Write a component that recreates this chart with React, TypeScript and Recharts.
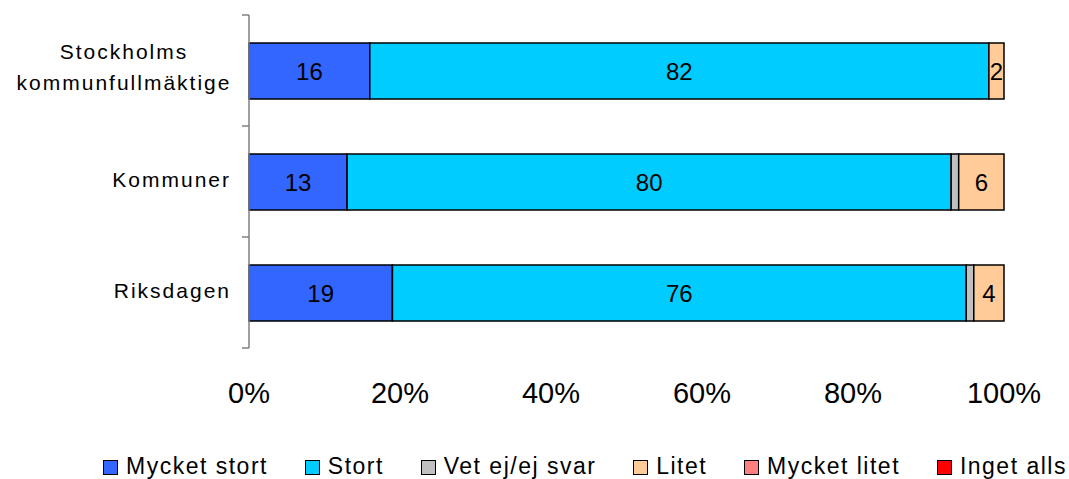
import React from 'react';
import { BarChart, Bar, XAxis, YAxis, LabelList } from 'recharts';

const categories = ['Stockholms kommunfullmäktige', 'Kommuner', 'Riksdagen'];
const mycketStort = [16, 13, 19];
const stort = [82, 80, 76];
const vetEj = [0, 1, 1];
const litet = [2, 6, 4];
const mycketLitet = [0, 0, 0];
const ingetAlls = [0, 0, 0];
const xTicks = [0, 20, 40, 60, 80, 100];

const series = [
  { key: 'mycketStort', name: 'Mycket stort', color: '#3366FF', values: mycketStort, label: true },
  { key: 'stort', name: 'Stort', color: '#00CCFF', values: stort, label: true },
  { key: 'vetEj', name: 'Vet ej/ej svar', color: '#C0C0C0', values: vetEj, label: false },
  { key: 'litet', name: 'Litet', color: '#FFCC99', values: litet, label: true },
  { key: 'mycketLitet', name: 'Mycket litet', color: '#FF8080', values: mycketLitet, label: true },
  { key: 'ingetAlls', name: 'Inget alls', color: '#FF0000', values: ingetAlls, label: true },
];

const data = categories.map((name, i) => {
  const row: any = { name };
  series.forEach((s) => { row[s.key] = s.values[i]; });
  return row;
});

const FONT = '"Liberation Sans", Arial, sans-serif';

const CategoryTick = (props: any) => {
  const { x, y, payload, index } = props;
  const half = payload?.offset ?? 0;
  const words = String(payload.value).split(' ');
  const multi = words.length > 1;
  const lines = multi ? words : [payload.value];
  const last = index === categories.length - 1;
  return (
    <g>
      <line x1={x - 7} x2={x} y1={y - half} y2={y - half} stroke="#808080" strokeWidth={1.5} />
      {last && <line x1={x - 7} x2={x} y1={y + half} y2={y + half} stroke="#808080" strokeWidth={1.5} />}
      {lines.map((l: string, i: number) => (
        <text
          key={i}
          // two-line label is centred block, single line right-aligned
          x={multi ? x - 125 : x - 18}
          y={y - 2 + (multi ? (i === 0 ? -17 : 14) : 0)}
          textAnchor={multi ? 'middle' : 'end'}
          dominantBaseline="central"
          fontSize={21}
          letterSpacing={2}
          fontFamily={FONT}
          fill="#000"
        >
          {l}
        </text>
      ))}
    </g>
  );
};

const PercentTick = (props: any) => {
  const { x, y, payload } = props;
  return (
    <text x={x} y={y + 45} textAnchor="middle" dominantBaseline="central" fontSize={29} fontFamily={FONT} fill="#000">
      {`${payload.value}%`}
    </text>
  );
};

export default function App() {
  return (
    <div style={{ position: 'absolute', left: 0, top: 0, width: 1069, height: 479, background: '#fff', fontFamily: FONT }}>
      <BarChart
        width={1069}
        height={479}
        data={data}
        layout="vertical"
        margin={{ top: 15, right: 65, left: 0, bottom: 0 }}
        barCategoryGap={0}
      >
        <XAxis
          type="number"
          domain={[0, 100]}
          ticks={xTicks}
          axisLine={false}
          tickLine={false}
          tickSize={0}
          tickMargin={0}
          height={131}
          tick={<PercentTick />}
          interval={0}
        />
        <YAxis
          type="category"
          dataKey="name"
          width={249}
          axisLine={{ stroke: '#808080', strokeWidth: 1.5 }}
          tickLine={false}
          tickSize={0}
          tickMargin={0}
          tick={<CategoryTick />}
          interval={0}
        />
        {series.map((s) => (
          <Bar
            key={s.key}
            dataKey={s.key}
            name={s.name}
            stackId="a"
            fill={s.color}
            stroke="#000"
            strokeWidth={1.5}
            barSize={56}
            isAnimationActive={false}
          >
            {s.label && (
              <LabelList
                dataKey={s.key}
                position="center"
                formatter={(v: any) => (v ? String(v) : '')}
                style={{ fontSize: 24, fontFamily: FONT, fill: '#000' }}
              />
            )}
          </Bar>
        ))}
      </BarChart>
      <div
        style={{
          position: 'absolute',
          left: 0,
          top: 453,
          width: 1069,
          display: 'flex',
          justifyContent: 'space-between',
          paddingLeft: 103,
          paddingRight: 2,
          boxSizing: 'border-box',
          fontFamily: FONT,
          fontSize: 23,
          letterSpacing: 1.5,
          lineHeight: '26px',
          whiteSpace: 'nowrap',
        }}
      >
        {series.map((s) => (
          <div key={s.key} style={{ display: 'flex', alignItems: 'center', gap: 8 }}>
            <span style={{ display: 'inline-block', width: 13, height: 13, background: s.color, border: '1px solid #000', marginTop: 3 }} />
            <span>{s.name}</span>
          </div>
        ))}
      </div>
    </div>
  );
}
